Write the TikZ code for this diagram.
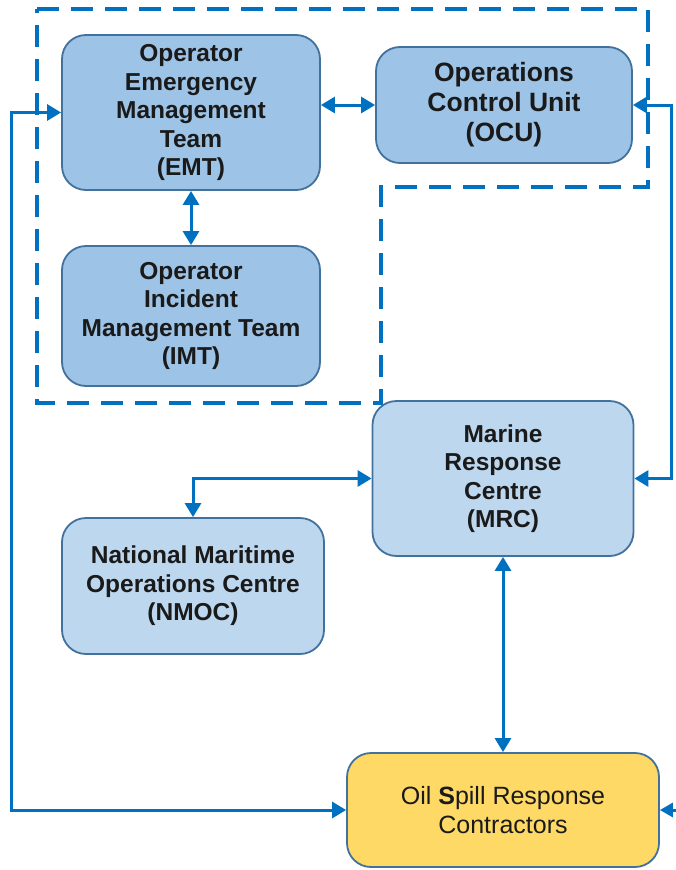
\documentclass[tikz,border=0pt]{standalone}
\usepackage{fontspec}
\setmainfont{Liberation Sans}
\usetikzlibrary{arrows.meta}
\definecolor{boxdark}{HTML}{9DC3E6}
\definecolor{boxlight}{HTML}{BDD7EE}
\definecolor{boxedge}{HTML}{41719C}
\definecolor{linkblue}{HTML}{0070C0}
\definecolor{gold}{HTML}{FFD966}
\definecolor{ink}{HTML}{1A1A1A}
\begin{document}
\begin{tikzpicture}[x=1pt,y=-1pt,
  box/.style={draw=boxedge, line width=1.8pt, rounded corners=24pt, align=center,
    text=ink, inner sep=0pt, font=\fontsize{24.5}{28.5}\selectfont\bfseries},
  darkbox/.style={box, fill=boxdark},
  lightbox/.style={box, fill=boxlight},
  goldbox/.style={box, fill=gold, font=\fontsize{25}{29.5}\selectfont},
  conn/.style={draw=linkblue, line width=3pt,
    {Triangle[length=14pt,width=16pt]}-{Triangle[length=14pt,width=16pt]}},
  oneway/.style={draw=linkblue, line width=3pt, -{Triangle[length=13pt,width=14pt]}},
  groupline/.style={draw=linkblue, line width=4.5pt, dash pattern=on 22pt off 12pt}
]
\useasboundingbox (0,0) rectangle (675,870);

% dashed group outline
\draw[groupline] (37,9) -- (648,9) -- (648,187) -- (381,187) -- (381,403) -- (37,403) -- cycle;

% boxes
\node[darkbox, minimum width=258pt, minimum height=155pt] (emt) at (191,112.5)
  {Operator\\Emergency\\Management\\Team\\(EMT)};
\node[darkbox, minimum width=256pt, minimum height=116pt,
  font=\fontsize{26.5}{30}\selectfont\bfseries] (ocu) at (504,105)
  {Operations\\Control Unit\\(OCU)};
\node[darkbox, minimum width=258pt, minimum height=140pt] (imt) at (191,316)
  {Operator\\Incident\\Management Team\\(IMT)};
\node[lightbox, minimum width=261pt, minimum height=155pt] (mrc) at (503,478.5)
  {Marine\\Response\\Centre\\(MRC)};
\node[lightbox, minimum width=262pt, minimum height=136pt] (nmoc) at (193,586)
  {National Maritime\\Operations Centre\\(NMOC)};
\node[goldbox, minimum width=312pt, minimum height=114pt] (osrc) at (503,810)
  {Oil \textbf{S}pill Response\\Contractors};

\coordinate (edgein) at (676,810);

% connectors
\draw[conn] (emt.east |- ocu.west) -- (ocu.west);
\draw[conn] (emt.south) -- (imt.north);
\draw[conn] (emt.west) -- ++(-50,0) |- (osrc.west);
\draw[conn] (ocu.east) -- ++(39,0) |- (mrc.east);
\draw[conn] (mrc.south) -- (osrc.north);
\draw[conn] (mrc.west) -| (nmoc.north);
\draw[oneway] (edgein) -- (osrc.east);
\end{tikzpicture}
\end{document}
